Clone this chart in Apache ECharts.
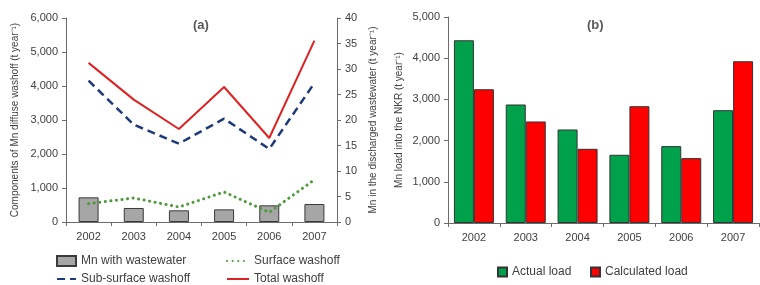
<!DOCTYPE html>
<html><head><meta charset="utf-8">
<script src="https://cdn.jsdelivr.net/npm/echarts@6/dist/echarts.min.js"></script>
<style>html,body{margin:0;padding:0;background:#fff}#c{width:760px;height:285px}</style>
</head><body><div id="c"></div>
<script>
const years = ['2002','2003','2004','2005','2006','2007'];
const wastewater = [4.84, 2.75, 2.29, 2.48, 3.27, 3.53];
const surface = [540, 706, 440, 882, 284, 1245];
const subsurface = [4157, 2863, 2304, 3040, 2147, 4088];
const total = [4680, 3600, 2735, 3970, 2470, 5335];
const actualLoad = [4435, 2876, 2270, 1656, 1866, 2738];
const calcLoad = [3247, 2464, 1801, 2835, 1575, 3926];

const TXT = '#404040', AX = '#6b6b6b', FONT = 'Liberation Sans, Arial, sans-serif';
const fmt = v => Number(v).toLocaleString('en-US');
const chart = echarts.init(document.getElementById('c'), null, {renderer:'canvas'});
const axisCommon = {
  axisLine:{show:true, lineStyle:{color:AX, width:1}},
  axisTick:{show:true, length:4, lineStyle:{color:AX}},
  splitLine:{show:false},
  axisLabel:{color:TXT, fontSize:11, fontFamily:FONT}
};
const legText = {color:TXT, fontSize:12, fontFamily:FONT};
const hideSym = {color:'rgba(0,0,0,0)', borderWidth:0};
chart.setOption({
  animation:false,
  textStyle:{fontFamily:FONT},
  title:[
    {text:'(a)', left:188, top:14, textStyle:{color:'#595959', fontSize:13, fontWeight:'bold', fontFamily:FONT}},
    {text:'(b)', left:582, top:14, textStyle:{color:'#595959', fontSize:13, fontWeight:'bold', fontFamily:FONT}}
  ],
  grid:[
    {left:66, right:423, top:18, bottom:63},
    {left:448, right:1, top:17, bottom:62}
  ],
  xAxis:[
    Object.assign({}, axisCommon, {type:'category', data:years, gridIndex:0, axisLabel:{color:TXT, fontSize:11, fontFamily:FONT, margin:9}}),
    Object.assign({}, axisCommon, {type:'category', data:years, gridIndex:1, axisLabel:{color:TXT, fontSize:11, fontFamily:FONT, margin:9}})
  ],
  yAxis:[
    Object.assign({}, axisCommon, {type:'value', gridIndex:0, min:0, max:6000, interval:1000,
      axisLabel:{color:TXT, fontSize:11, fontFamily:FONT, formatter:fmt},
      name:'Components of Mn diffuse washoff (t year\u207B\u00B9)', nameLocation:'middle', nameGap:46,
      nameTextStyle:{color:TXT, fontSize:10, fontFamily:FONT}}),
    Object.assign({}, axisCommon, {type:'value', gridIndex:0, position:'right', min:0, max:40, interval:5,
      name:'Mn in the discharged wastewater (t year\u207B\u00B9)', nameLocation:'middle', nameGap:31,
      nameRotate:90,
      nameTextStyle:{color:TXT, fontSize:10, fontFamily:FONT}}),
    Object.assign({}, axisCommon, {type:'value', gridIndex:1, min:0, max:5000, interval:1000,
      axisLabel:{color:TXT, fontSize:11, fontFamily:FONT, formatter:fmt},
      name:'Mn load into the NKR (t year\u207B\u00B9)', nameLocation:'middle', nameGap:44,
      nameTextStyle:{color:TXT, fontSize:10, fontFamily:FONT}})
  ],
  legend:[
    {data:[{name:'Mn with wastewater', icon:'rect'}], left:56, top:255, padding:0, itemWidth:19, itemHeight:10, textStyle:legText},
    {data:['Surface washoff'], left:226, top:255, padding:0, itemWidth:22, itemHeight:10, textStyle:legText, itemStyle:hideSym},
    {data:['Sub-surface washoff'], left:56, top:273, padding:0, itemWidth:19, itemHeight:10, textStyle:legText, itemStyle:hideSym},
    {data:['Total washoff'], left:226, top:273, padding:0, itemWidth:22, itemHeight:10, textStyle:legText, itemStyle:hideSym},
    {data:[{name:'Actual load', icon:'rect'}], left:497, top:266, padding:0, itemWidth:9, itemHeight:9, textStyle:legText},
    {data:[{name:'Calculated load', icon:'rect'}], left:590, top:266, padding:0, itemWidth:9, itemHeight:9, textStyle:legText}
  ],
  series:[
    {name:'Mn with wastewater', type:'bar', xAxisIndex:0, yAxisIndex:1, data:wastewater, barWidth:20,
      itemStyle:{color:'#A6A6A6', borderColor:'#3a3a3a', borderWidth:1}},
    {name:'Surface washoff', type:'line', xAxisIndex:0, yAxisIndex:0, data:surface, symbol:'none',
      lineStyle:{color:'#4E9A3A', width:3, type:[0.1,5.5], cap:'round'}, itemStyle:{color:'#4E9A3A'}},
    {name:'Sub-surface washoff', type:'line', xAxisIndex:0, yAxisIndex:0, data:subsurface, symbol:'none',
      lineStyle:{color:'#1F3A7A', width:2.5, type:[8,5]}, itemStyle:{color:'#1F3A7A'}},
    {name:'Total washoff', type:'line', xAxisIndex:0, yAxisIndex:0, data:total, symbol:'none',
      lineStyle:{color:'#DD2222', width:2}, itemStyle:{color:'#DD2222'}},
    {name:'Actual load', type:'bar', xAxisIndex:1, yAxisIndex:2, data:actualLoad, barWidth:20, barGap:'0%',
      itemStyle:{color:'#00A14B', borderColor:'#333', borderWidth:1}},
    {name:'Calculated load', type:'bar', xAxisIndex:1, yAxisIndex:2, data:calcLoad, barWidth:20, barGap:'0%',
      itemStyle:{color:'#FF0000', borderColor:'#333', borderWidth:1}}
  ]
});
</script></body></html>
